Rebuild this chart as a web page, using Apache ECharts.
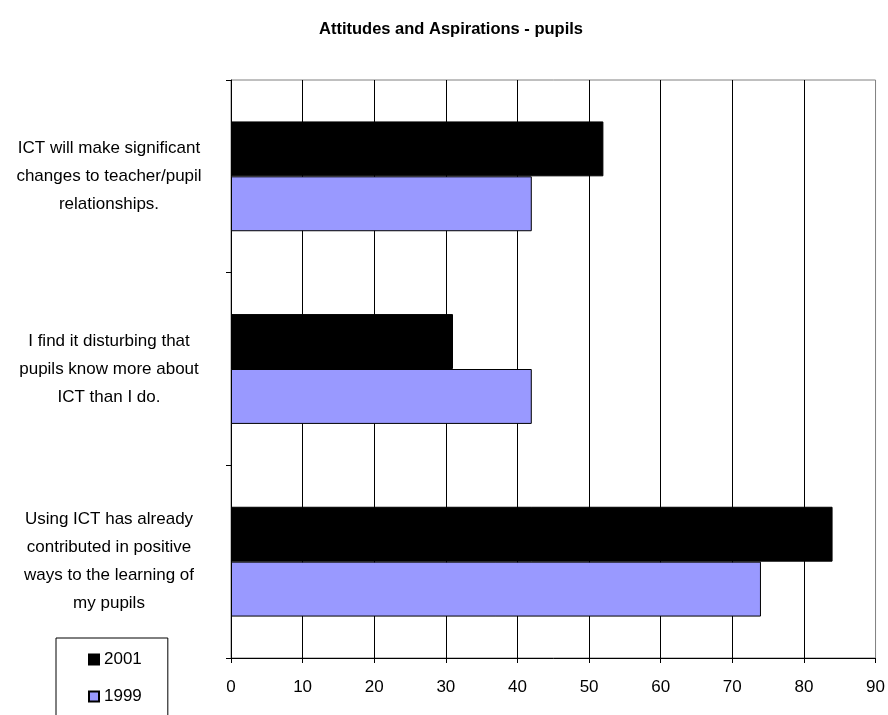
<!DOCTYPE html>
<html>
<head>
<meta charset="utf-8">
<script src="https://cdn.jsdelivr.net/npm/echarts@6/dist/echarts.min.js"></script>
<style>
  html, body { margin: 0; padding: 0; background: #ffffff; }
  #chart { width: 888px; height: 715px; }
</style>
</head>
<body>
<div id="chart"></div>
<script>
// Survey statements, listed bottom to top as they sit on the category axis
const categories = [
  "Using ICT has already\ncontributed in positive\nways to the learning of\nmy pupils",
  "I find it disturbing that\npupils know more about\nICT than I do.",
  "ICT will make significant\nchanges to teacher/pupil\nrelationships."
];
// Percentages agreeing, same order as categories
const values2001 = [84, 31, 52];
const values1999 = [74, 42, 42];
const xTicks = { min: 0, max: 90, interval: 10 };

const FONT = "'Liberation Sans', Arial, sans-serif";

const chart = echarts.init(document.getElementById('chart'), null, { renderer: 'canvas' });

chart.setOption({
  animation: false,
  backgroundColor: '#ffffff',
  textStyle: { fontFamily: FONT, color: '#000' },
  title: {
    text: 'Attitudes and Aspirations - pupils',
    left: 446,
    textAlign: 'center',
    top: 16,
    textStyle: { fontFamily: FONT, fontSize: 16.5, fontWeight: 'bold', color: '#000' }
  },
  legend: {
    orient: 'vertical',
    left: 56,
    top: 638,
    height: 200,
    padding: [13, 26, 30, 32],
    itemGap: 20,
    itemWidth: 10,
    itemHeight: 10,
    borderColor: '#000',
    borderWidth: 1,
    icon: 'rect',
    textStyle: { fontFamily: FONT, fontSize: 17, color: '#000' },
    data: ['2001', '1999']
  },
  grid: {
    left: 231,
    right: 8,
    top: 80,
    bottom: 57,
    show: true,
    borderColor: '#808080',
    borderWidth: 1,
    backgroundColor: 'transparent'
  },
  xAxis: {
    type: 'value',
    min: xTicks.min,
    max: xTicks.max,
    interval: xTicks.interval,
    axisLine: { show: true, lineStyle: { color: '#000', width: 1 } },
    axisTick: { show: true, length: 5, lineStyle: { color: '#000', width: 1 } },
    axisLabel: { fontFamily: FONT, fontSize: 17, color: '#000', margin: 21 },
    splitLine: {
      show: true,
      showMinLine: false,
      showMaxLine: false,
      lineStyle: { color: '#000', width: 1 }
    }
  },
  yAxis: {
    type: 'category',
    data: categories,
    axisLine: { show: true, lineStyle: { color: '#000', width: 1 } },
    axisTick: { show: true, length: 5, lineStyle: { color: '#000', width: 1 } },
    axisLabel: {
      fontFamily: FONT,
      fontSize: 17,
      color: '#000',
      align: 'center',
      margin: 122,
      lineHeight: 28
    },
    splitLine: { show: false }
  },
  series: [
    {
      name: '2001',
      type: 'bar',
      data: values2001,
      barGap: '0%',
      barCategoryGap: '43%',
      itemStyle: { color: '#000000', borderColor: '#000', borderWidth: 1 }
    },
    {
      name: '1999',
      type: 'bar',
      data: values1999,
      barGap: '0%',
      barCategoryGap: '43%',
      itemStyle: { color: '#9999ff', borderColor: '#000', borderWidth: 1 }
    }
  ]
});
</script>
</body>
</html>
